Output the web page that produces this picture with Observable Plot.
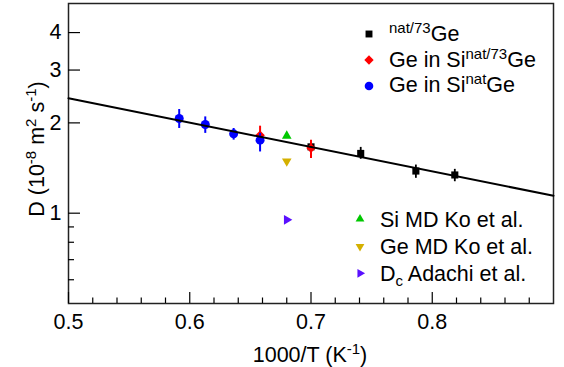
<!DOCTYPE html>
<html><head><meta charset="utf-8">
<script src="https://cdn.jsdelivr.net/npm/d3@7"></script>
<script src="https://cdn.jsdelivr.net/npm/@observablehq/plot@0.6"></script>
<style>body{margin:0;background:#fff} svg{display:block}</style>
</head><body><div id="chart"></div>
<script>
const FONT = '"Liberation Sans", Arial, Helvetica, sans-serif';

// ---- data (1000/T in K^-1, D in 1e-8 m^2/s) ----
const geX   = [0.700, 0.741, 0.7865, 0.8186];
const geD   = [1.664, 1.582, 1.382, 1.341];
const geLo  = [1.610, 1.512, 1.307, 1.273];
const geHi  = [1.720, 1.657, 1.447, 1.400];

const si73X  = [0.658, 0.700];
const si73D  = [1.820, 1.648];
const si73Lo = [1.700, 1.523];
const si73Hi = [1.950, 1.750];

const siNatX  = [0.5913, 0.6128, 0.6362, 0.658];
const siNatD  = [2.068, 1.976, 1.839, 1.752];
const siNatLo = [1.916, 1.845, 1.752, 1.600];
const siNatHi = [2.216, 2.094, 1.916, 1.845];

const siMdX = [0.68], siMdD = [1.81];
const geMdX = [0.68], geMdD = [1.49];
const adX   = [0.68], adD   = [0.95];

const fitX = [0.5, 0.9];
const fitD = [2.415, 1.143];

const xMajor = [0.5, 0.6, 0.7, 0.8];
const xMinor = [0.52,0.54,0.56,0.58,0.62,0.64,0.66,0.68,0.72,0.74,0.76,0.78,0.82,0.84,0.86,0.88];
const yMajor = [1, 2, 3, 4];
const yMinor = [0.6, 0.7, 0.8, 0.9];

const C = {ge:"#000000", si73:"#ff0000", siNat:"#0000ff", siMd:"#00c800", geMd:"#d4b000", ad:"#5a10ff"};

const rows = (xs, ys, lo, hi) => xs.map((x,i)=>({x, y: ys[i], lo: lo ? lo[i] : null, hi: hi ? hi[i] : null}));
const ge = rows(geX, geD, geLo, geHi);
const si73 = rows(si73X, si73D, si73Lo, si73Hi);
const siNat = rows(siNatX, siNatD, siNatLo, siNatHi);
const siMd = rows(siMdX, siMdD), geMd = rows(geMdX, geMdD), ad = rows(adX, adD);
const fit = rows(fitX, fitD);

const W = 564, H = 367, mL = 68, mR = 11, mT = 3, mB = 64;
const fw = W - mL - mR, fh = H - mT - mB;
const TR = 4.6;

const chart = Plot.plot({
  width: W, height: H,
  marginLeft: mL, marginRight: mR, marginTop: mT, marginBottom: mB,
  style: {fontFamily: FONT, background: "#fff", color: "#000"},
  x: {domain: [0.5, 0.9]},
  y: {type: "log", domain: [0.5, 5]},
  marks: [
    Plot.frame({stroke: "#222", strokeWidth: 1.5}),
    Plot.tickX(xMajor, {x: d=>d, insetTop: fh - 11, stroke: "#000", strokeWidth: 1.2}),
    Plot.tickX(xMinor, {x: d=>d, insetTop: fh - 5.5, stroke: "#000", strokeWidth: 1.2}),
    Plot.tickY(yMajor, {y: d=>d, insetRight: fw - 12, stroke: "#000", strokeWidth: 1.2}),
    Plot.tickY(yMinor, {y: d=>d, insetRight: fw - 6, stroke: "#000", strokeWidth: 1.2}),
    Plot.axisX({ticks: xMajor, tickFormat: d=>d.toFixed(1), tickSize: 0, tickPadding: 10, fontSize: 21.5, label: null}),
    Plot.axisY({ticks: yMajor, tickFormat: d=>String(d), tickSize: 0, tickPadding: 7, fontSize: 21.5, label: null}),
    // error bars + markers
    Plot.ruleX(ge, {x: "x", y1: "lo", y2: "hi", stroke: C.ge, strokeWidth: 1.8}),
    Plot.dot(ge, {x: "x", y: "y", symbol: "square", r: 4, fill: C.ge}),
    Plot.ruleX(si73, {x: "x", y1: "lo", y2: "hi", stroke: C.si73, strokeWidth: 2}),
    Plot.dot(si73, {x: "x", y: "y", symbol: "diamond2", r: 4.3, fill: C.si73}),
    Plot.ruleX(siNat, {x: "x", y1: "lo", y2: "hi", stroke: C.siNat, strokeWidth: 2}),
    Plot.dot(siNat, {x: "x", y: "y", symbol: "circle", r: 4.5, fill: C.siNat}),
    Plot.dot(siMd, {x: "x", y: "y", symbol: "triangle2", r: TR, fill: C.siMd}),
    Plot.dot(geMd, {x: "x", y: "y", symbol: "triangle2", rotate: 180, r: TR, fill: C.geMd}),
    Plot.dot(ad, {x: "x", y: "y", symbol: "triangle2", rotate: 90, r: TR, fill: C.ad}),
    Plot.line(fit, {x: "x", y: "y", stroke: "#000", strokeWidth: 2})
  ]
});
document.getElementById("chart").appendChild(chart);

// ---- rich text (superscripts/subscripts), legend ----
const svg = d3.select(chart);
const FS = 21.5, SFS = 15;
function rich(g, parts) {
  let shift = 0;
  parts.forEach(([t, m]) => {
    const target = m === "sup" ? -8 : m === "sub" ? 5 : 0;
    g.append("tspan").attr("dy", target - shift).attr("font-size", m ? SFS : FS).text(t);
    shift = target;
  });
}
function textAt(x, y, parts, anchor="start", transform=null) {
  const t = svg.append("text").attr("font-family", FONT).attr("font-size", FS)
    .attr("fill", "#000").attr("text-anchor", anchor);
  if (transform) t.attr("transform", transform); else t.attr("x", x).attr("y", y);
  rich(t, parts);
  return t;
}
// axis titles
textAt(310, 362, [["1000/T (K"],["-1","sup"],[")"]], "middle");
textAt(0, 0, [["D (10"],["-8","sup"],[" m"],["2","sup"],[" s"],["-1","sup"],[")"]], "middle", "translate(43.5,149) rotate(-90)");

// legend
const sym = (type, r) => d3.symbol().type(type).size(Math.PI * r * r)();
const leg = [
  {x: 369, y: 34, bl: 40.7, sym: d3.symbolSquare, r: 3.9, rot: 0, c: C.ge, parts: [["nat/73","sup"],["Ge"]]},
  {x: 369, y: 60, bl: 66.7, sym: d3.symbolDiamond2, r: 4.2, rot: 0, c: C.si73, parts: [["Ge in Si"],["nat/73","sup"],["Ge"]]},
  {x: 369, y: 86, bl: 92.3, sym: d3.symbolCircle, r: 4.3, rot: 0, c: C.siNat, parts: [["Ge in Si"],["nat","sup"],["Ge"]]},
  {x: 360, y: 219, bl: 227.3, sym: d3.symbolTriangle2, r: 4.2, rot: 0, c: C.siMd, parts: [["Si MD Ko et al."]]},
  {x: 360, y: 246.5, bl: 254.3, sym: d3.symbolTriangle2, r: 4.2, rot: 180, c: C.geMd, parts: [["Ge MD Ko et al."]]},
  {x: 360, y: 273.3, bl: 280.5, sym: d3.symbolTriangle2, r: 4.2, rot: 90, c: C.ad, parts: [["D"],["c","sub"],[" Adachi et al."]]}
];
leg.forEach(l => {
  svg.append("path").attr("d", sym(l.sym, l.r)).attr("fill", l.c)
    .attr("transform", `translate(${l.x},${l.y}) rotate(${l.rot})`);
  textAt(l.x + 20, l.bl, l.parts);
});
</script>
</body></html>
